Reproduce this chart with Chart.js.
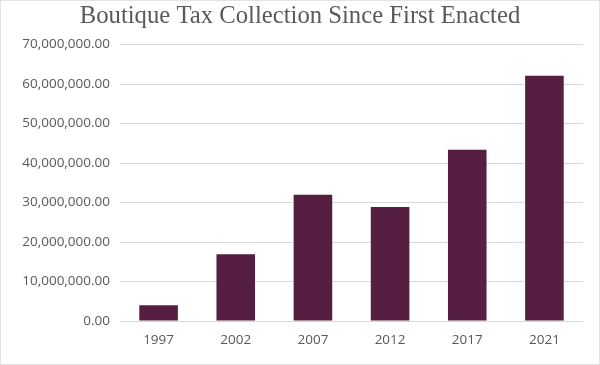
<!DOCTYPE html>
<html>
<head>
<meta charset="utf-8">
<script src="https://cdn.jsdelivr.net/npm/chart.js@4"></script>
<style>
  html, body { margin: 0; padding: 0; background: #ffffff; }
  #wrap { width: 600px; height: 365px; position: relative; }
</style>
</head>
<body>
<div id="wrap"><canvas id="c" width="600" height="365"></canvas></div>
<script>
const categories = ['1997', '2002', '2007', '2012', '2017', '2021'];
const taxCollected = [4000000, 16900000, 32000000, 28900000, 43400000, 62100000];
const chartTitle = 'Boutique Tax Collection Since First Enacted';
const yMin = 0, yMax = 70000000, yStep = 10000000;

const frame = {
  id: 'frame',
  afterDraw(chart) {
    const ctx = chart.ctx;
    ctx.save();
    ctx.strokeStyle = '#e3e3e3';
    ctx.lineWidth = 1;
    ctx.strokeRect(0.5, 0.5, chart.width - 1, chart.height - 1);
    ctx.restore();
  }
};

new Chart(document.getElementById('c'), {
  type: 'bar',
  data: {
    labels: categories,
    datasets: [{
      data: taxCollected,
      backgroundColor: '#561f41',
      borderWidth: 0,
      categoryPercentage: 1.0,
      barPercentage: 0.5
    }]
  },
  options: {
    responsive: false,
    animation: false,
    devicePixelRatio: 1,
    layout: { padding: { top: 0, right: 17, bottom: 0, left: 17 } },
    plugins: {
      legend: { display: false },
      tooltip: { enabled: false },
      title: {
        display: true,
        text: chartTitle,
        color: '#595959',
        font: { family: 'Liberation Serif', size: 24.7, weight: 'normal' },
        padding: { top: 2, bottom: 13 }
      }
    },
    scales: {
      x: {
        grid: { display: false, drawTicks: false },
        border: { display: false },
        ticks: { color: '#595959', font: { family: 'Open Sans', size: 13.5 }, padding: 11, maxRotation: 0 },
        afterFit(s) { s.height = 44; }
      },
      y: {
        min: yMin, max: yMax,
        grid: { color: '#d9d9d9', lineWidth: 1, drawTicks: false },
        border: { display: false },
        ticks: {
          stepSize: yStep,
          color: '#595959',
          font: { family: 'Open Sans', size: 13.5 },
          padding: 10,
          callback: v => Number(v).toLocaleString('en-US', { minimumFractionDigits: 2, maximumFractionDigits: 2 })
        },
        afterFit(s) { s.width = 103; }
      }
    }
  },
  plugins: [frame]
});
</script>
</body>
</html>
